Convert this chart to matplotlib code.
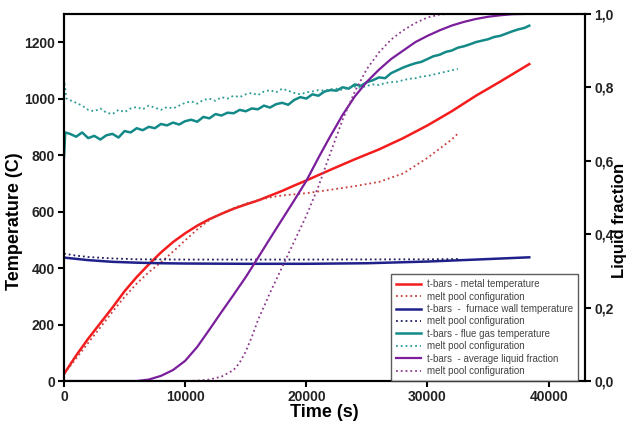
import matplotlib
matplotlib.use("Agg")
import matplotlib.pyplot as plt
from matplotlib.ticker import FuncFormatter

plt.rcParams['font.family'] = ['Liberation Sans', 'DejaVu Sans']

# metal temperature (C)
t_metal = [0, 1000, 2000, 3000, 4000, 5000, 6000, 7000, 8000, 9000, 10000, 11000,
           12000, 13000, 14000, 15000, 16000, 17000, 18000, 19000, 20000, 22000,
           24000, 26000, 28000, 30000, 32000, 34000, 36000, 38400]
metal = [25, 90, 150, 205, 260, 318, 368, 413, 455, 492, 523, 550,
         573, 592, 610, 625, 639, 656, 673, 692, 710, 748,
         785, 820, 860, 905, 955, 1010, 1060, 1122]
t_metal_mp = [0, 1000, 2000, 3000, 4000, 5000, 6000, 7000, 8000, 9000, 10000, 11000,
              12000, 13000, 14000, 15000, 16000, 17000, 18000, 20000, 22000, 24000,
              26000, 28000, 30000, 32000, 32600]
metal_mp = [25, 80, 135, 190, 245, 298, 345, 385, 420, 458, 498, 537,
            570, 594, 612, 628, 640, 650, 657, 665, 677, 690,
            705, 735, 790, 855, 880]

# furnace wall temperature (C)
t_wall = [0, 2000, 4000, 6000, 8000, 10000, 15000, 20000, 25000, 30000, 34000, 38400]
wall = [437, 428, 422, 419, 417, 416, 415, 415, 417, 423, 430, 438]
t_wall_mp = [0, 1000, 2000, 4000, 6000, 10000, 20000, 30000, 32600]
wall_mp = [451, 444, 439, 434, 431, 430, 430, 431, 432]

# flue gas temperature (C)
t_gas = [0, 100, 500, 1000, 1500, 2000, 2500, 3000, 3500, 4000, 4500, 5000, 5500,
         6000, 6500, 7000, 7500, 8000, 8500, 9000, 9500, 10000, 10500, 11000, 11500,
         12000, 12500, 13000, 13500, 14000, 14500, 15000, 15500, 16000, 16500, 17000,
         17500, 18000, 18500, 19000, 19500, 20000, 20500, 21000, 21500, 22000, 22500,
         23000, 23500, 24000, 24500, 25000, 25500, 26000, 26500, 27000, 27500, 28000,
         28500, 29000, 29500, 30000, 30500, 31000, 31500, 32000, 32500, 33000, 33500,
         34000, 34500, 35000, 35500, 36000, 36500, 37000, 37500, 38000, 38400]
gas = [790, 880, 875, 865, 880, 860, 868, 855, 870, 875, 862, 885, 880,
       895, 888, 900, 895, 910, 905, 915, 908, 920, 925, 918, 935,
       930, 945, 940, 950, 948, 960, 955, 965, 962, 975, 968,
       980, 985, 978, 995, 1005, 1000, 1015, 1010, 1025, 1030, 1028,
       1040, 1035, 1050, 1045, 1058, 1065, 1075, 1072, 1090, 1100, 1110,
       1118, 1125, 1130, 1140, 1150, 1155, 1165, 1170, 1180, 1185, 1192,
       1200, 1205, 1210, 1218, 1222, 1230, 1238, 1245, 1250, 1258]
t_gas_mp = [0, 200, 1000, 1500, 2000, 2500, 3000, 3500, 4000, 4500, 5000, 5500,
            6000, 6500, 7000, 7500, 8000, 8500, 9000, 9500, 10000, 10500, 11000,
            11500, 12000, 12500, 13000, 13500, 14000, 14500, 15000, 15500, 16000,
            16500, 17000, 17500, 18000, 18500, 19000, 19500, 20000, 20500, 21000,
            21500, 22000, 22500, 23000, 23500, 24000, 24500, 25000, 25500, 26000,
            26500, 27000, 27500, 28000, 28500, 29000, 29500, 30000, 30500, 31000,
            31500, 32000, 32500]
gas_mp = [1070, 1000, 985, 975, 960, 955, 965, 950, 945, 960, 952, 965,
          970, 962, 975, 968, 960, 970, 965, 975, 985, 990, 982,
          995, 1000, 992, 1005, 1000, 1010, 1005, 1015, 1020, 1012,
          1025, 1030, 1022, 1035, 1028, 1020, 1015, 1022, 1025, 1030,
          1028, 1033, 1035, 1030, 1040, 1042, 1038, 1045, 1050, 1048,
          1055, 1058, 1060, 1065, 1070, 1072, 1078, 1080, 1085, 1090,
          1095, 1100, 1105]

# average liquid fraction (-)
t_liq = [0, 6000, 7000, 8000, 9000, 10000, 11000, 12000, 13000, 14000, 15000,
         16000, 17000, 18000, 19000, 20000, 21000, 22000, 23000, 24000, 25000, 26000,
         27000, 28000, 29000, 30000, 31000, 32000, 33000, 34000, 35000, 36000, 37000, 38400]
liq = [0, 0, 0.004, 0.014, 0.03, 0.055, 0.093, 0.14, 0.188, 0.235, 0.283,
       0.335, 0.388, 0.44, 0.492, 0.545, 0.608, 0.668, 0.725, 0.775, 0.815, 0.848,
       0.877, 0.9, 0.923, 0.94, 0.955, 0.968, 0.978, 0.986, 0.992, 0.996, 0.999, 1.0]
t_liq_mp = [0, 10000, 11000, 12000, 13000, 14000, 14500, 15000, 15500, 16000, 17000,
            18000, 19000, 20000, 21000, 22000, 23000, 24000, 25000, 26000, 27000,
            28000, 29000, 30000, 31000, 32000, 32600]
liq_mp = [0, 0, 0.001, 0.004, 0.012, 0.03, 0.05, 0.08, 0.12, 0.165, 0.24,
          0.31, 0.38, 0.45, 0.53, 0.622, 0.712, 0.788, 0.85, 0.895, 0.93,
          0.955, 0.975, 0.99, 0.998, 1.0, 1.0]

labels = ['t-bars - metal temperature', 'melt pool configuration',
          't-bars  -  furnace wall temperature', 'melt pool configuration',
          't-bars - flue gas temperature', 'melt pool configuration',
          't-bars  - average liquid fraction', 'melt pool configuration']

fig = plt.figure(figsize=(6.31, 4.32), dpi=100)
ax = fig.add_axes([0.1014, 0.118, 0.8257, 0.85])
ax2 = ax.twinx()

h = []
h += ax.plot(t_metal, metal, color='#f41c1c', lw=1.8)
h += ax.plot(t_metal_mp, metal_mp, color='#c8403c', lw=1.3, ls=':')
h += ax.plot(t_wall, wall, color='#20208a', lw=1.8)
h += ax.plot(t_wall_mp, wall_mp, color='#1e1e60', lw=1.3, ls=':')
h += ax.plot(t_gas, gas, color='#138a88', lw=1.8)
h += ax.plot(t_gas_mp, gas_mp, color='#2a9a96', lw=1.3, ls=':')
h += ax2.plot(t_liq, liq, color='#7a1e9c', lw=1.6)
h += ax2.plot(t_liq_mp, liq_mp, color='#8c3a8c', lw=1.3, ls=':')

ax.set_xlim(0, 43000)
ax.set_ylim(0, 1300)
ax2.set_ylim(0, 1.0)
ax.set_xticks([0, 10000, 20000, 30000, 40000])
ax.set_yticks([0, 200, 400, 600, 800, 1000, 1200])
ax2.set_yticks([0, 0.2, 0.4, 0.6, 0.8, 1.0])
ax2.yaxis.set_major_formatter(FuncFormatter(lambda v, p: f'{v:.1f}'.replace('.', ',')))

for a in (ax, ax2):
    for s in a.spines.values():
        s.set_linewidth(1.5)
    a.tick_params(width=1.5, length=4, labelsize=10, direction='out', pad=2.5)
    for lab in a.get_xticklabels() + a.get_yticklabels():
        lab.set_fontweight('bold')
        lab.set_color('#222222')

ax.set_xlabel('Time (s)', fontsize=13, fontweight='bold', labelpad=0)
ax.set_ylabel('Temperature (C)', fontsize=13, fontweight='bold')
ax2.set_ylabel('Liquid fraction', fontsize=12, fontweight='bold')
ax.yaxis.set_label_coords(-0.079, 0.436)
ax2.yaxis.set_label_coords(1.052, 0.436)

leg = ax2.legend(h, labels, loc='lower right', bbox_to_anchor=(0.987, 0.0),
                 fontsize=7, frameon=True, fancybox=False, borderaxespad=0,
                 handlelength=2.6, labelspacing=0.25, handletextpad=0.6,
                 borderpad=0.5)
leg.get_frame().set_edgecolor('#333333')
leg.get_frame().set_linewidth(1.0)
for txt in leg.get_texts():
    txt.set_color('#444444')

fig.savefig('out.png', dpi=100)
